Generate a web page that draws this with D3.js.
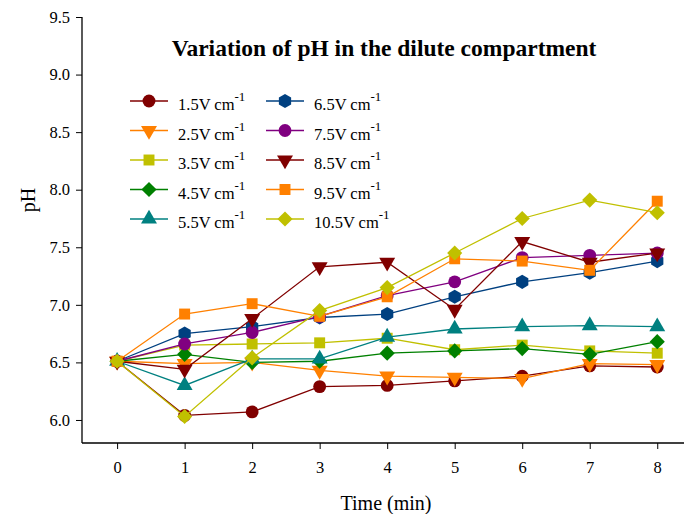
<!DOCTYPE html>
<html>
<head>
<meta charset="utf-8">
<script src="https://cdn.jsdelivr.net/npm/d3@7"></script>
<style>
  body { margin: 0; background: #fff; }
  text { font-family: "Liberation Serif", "Times New Roman", serif; }
</style>
</head>
<body>
<div id="chart"></div>
<script>
(function () {

    var width = 684, height = 514

    // data
    var times = [0, 1, 2, 3, 4, 5, 6, 7, 8]
    var labels = ['1.5', '2.5', '3.5', '4.5', '5.5', '6.5', '7.5', '8.5', '9.5', '10.5']
    var v15  = [6.51, 6.04, 6.07, 6.29, 6.30, 6.34, 6.38, 6.47, 6.46]
    var v25  = [6.51, 6.49, 6.50, 6.43, 6.38, 6.37, 6.36, 6.49, 6.48]
    var v35  = [6.51, 6.65, 6.66, 6.67, 6.71, 6.61, 6.65, 6.60, 6.58]
    var v45  = [6.51, 6.57, 6.50, 6.51, 6.58, 6.60, 6.62, 6.57, 6.68]
    var v55  = [6.51, 6.30, 6.53, 6.53, 6.72, 6.79, 6.81, 6.82, 6.81]
    var v65  = [6.51, 6.75, 6.81, 6.89, 6.92, 7.07, 7.20, 7.28, 7.38]
    var v75  = [6.51, 6.66, 6.76, 6.90, 7.08, 7.20, 7.41, 7.43, 7.45]
    var v85  = [6.51, 6.44, 6.88, 7.33, 7.37, 6.96, 7.55, 7.37, 7.45]
    var v95  = [6.51, 6.92, 7.01, 6.90, 7.07, 7.40, 7.38, 7.30, 7.90]
    var v105 = [6.51, 6.03, 6.54, 6.95, 7.15, 7.45, 7.75, 7.91, 7.80]
    var yTicks = [6.0, 6.5, 7.0, 7.5, 8.0, 8.5, 9.0, 9.5]

    var hexagon = {
        draw: function (ctx, size) {
            var r = Math.sqrt(size / 2.598)
            for (var i = 0; i < 6; i++) {
                var a = Math.PI / 6 + i * Math.PI / 3
                var px = r * Math.cos(a), py = r * Math.sin(a)
                if (i === 0) ctx.moveTo(px, py); else ctx.lineTo(px, py)
            }
            ctx.closePath()
        }
    }
    var triDown = {
        draw: function (ctx, size) {
            var s = Math.sqrt(size * 4 / Math.sqrt(3))
            var h = s * Math.sqrt(3) / 2
            ctx.moveTo(-s / 2, -h / 3)
            ctx.lineTo(s / 2, -h / 3)
            ctx.lineTo(0, 2 * h / 3)
            ctx.closePath()
        }
    }
    // square turned 45 degrees, equal diagonals
    var rhomb = {
        draw: function (ctx, size) {
            var r = Math.sqrt(size / 2)
            ctx.moveTo(0, -r)
            ctx.lineTo(r, 0)
            ctx.lineTo(0, r)
            ctx.lineTo(-r, 0)
            ctx.closePath()
        }
    }

    var series = [
        { name: labels[0], values: v15,  color: '#800000', shape: d3.symbolCircle,   size: 130 },
        { name: labels[1], values: v25,  color: '#ff8000', shape: triDown,           size: 110 },
        { name: labels[2], values: v35,  color: '#c0c000', shape: d3.symbolSquare,   size: 120 },
        { name: labels[3], values: v45,  color: '#008000', shape: rhomb,             size: 115 },
        { name: labels[4], values: v55,  color: '#008080', shape: d3.symbolTriangle, size: 110 },
        { name: labels[5], values: v65,  color: '#004080', shape: hexagon,           size: 130 },
        { name: labels[6], values: v75,  color: '#800080', shape: d3.symbolCircle,   size: 130 },
        { name: labels[7], values: v85,  color: '#800000', shape: triDown,           size: 110 },
        { name: labels[8], values: v95,  color: '#ff8000', shape: d3.symbolSquare,   size: 120 },
        { name: labels[9], values: v105, color: '#c0c000', shape: rhomb,             size: 115 }
    ]

    var svg = d3.select('#chart')
        .append('svg')
        .attr('width', width)
        .attr('height', height)

    var x = d3.scaleLinear().domain([-0.52, 8.5]).range([82, 691])
    var y = d3.scaleLinear().domain([5.8, 9.5]).range([443, 17])

    // axes
    var yAxis = svg.append('g')
        .attr('transform', 'translate(82,0)')
        .call(d3.axisLeft(y).tickValues(yTicks).tickFormat(d3.format('.1f')).tickSize(6).tickPadding(6))
    var xAxis = svg.append('g')
        .attr('transform', 'translate(0,443)')
        .call(d3.axisBottom(x).tickValues(times).tickSize(6).tickPadding(12))

    ;[yAxis, xAxis].forEach(function (g) {
        g.attr('font-family', null)
        g.select('.domain').attr('stroke', '#000').attr('stroke-width', 1.3)
        g.selectAll('.tick line').attr('stroke', '#000').attr('stroke-width', 1)
        g.selectAll('.tick text').attr('font-size', 16.5).attr('fill', '#000')
    })
    yAxis.select('.domain').attr('d', 'M0,17V443')
    xAxis.select('.domain').attr('d', 'M82,0H691')

    var line = d3.line()
        .x(function (d, i) { return x(times[i]) })
        .y(function (d) { return y(d) })

    series.forEach(function (s) {
        svg.append('path')
            .datum(s.values)
            .attr('d', line)
            .attr('fill', 'none')
            .attr('stroke', s.color)
            .attr('stroke-width', 1.3)
        svg.selectAll(null)
            .data(s.values)
            .enter().append('path')
            .attr('d', d3.symbol().type(s.shape).size(s.size))
            .attr('transform', function (d, i) { return 'translate(' + x(times[i]) + ',' + y(d) + ')' })
            .attr('fill', s.color)
    })

    // title
    svg.append('text')
        .attr('x', 384).attr('y', 56)
        .attr('text-anchor', 'middle')
        .attr('font-size', 23.5).attr('font-weight', 'bold')
        .text('Variation of pH in the dilute compartment')

    // axis titles
    svg.append('text')
        .attr('x', 386).attr('y', 510)
        .attr('text-anchor', 'middle')
        .attr('font-size', 20)
        .text('Time (min)')
    svg.append('text')
        .attr('transform', 'translate(35,200) rotate(-90)')
        .attr('text-anchor', 'middle')
        .attr('font-size', 20)
        .text('pH')

    // legend
    var legend = svg.append('g')
    series.forEach(function (s, i) {
        var col = Math.floor(i / 5), row = i % 5
        var lx = 130 + col * 136, ly = 101 + row * 29.5
        legend.append('line')
            .attr('x1', lx).attr('x2', lx + 38)
            .attr('y1', ly).attr('y2', ly)
            .attr('stroke', s.color).attr('stroke-width', 1.5)
        legend.append('path')
            .attr('d', d3.symbol().type(s.shape).size(s.size))
            .attr('transform', 'translate(' + (lx + 19) + ',' + ly + ')')
            .attr('fill', s.color)
        var t = legend.append('text')
            .attr('x', lx + 48).attr('y', ly + 9)
            .attr('font-size', 16.5)
        t.append('tspan').text(s.name + 'V cm')
        t.append('tspan').attr('dy', -9).attr('font-size', 13).text('-1')
    })

})()
</script>
</body>
</html>
